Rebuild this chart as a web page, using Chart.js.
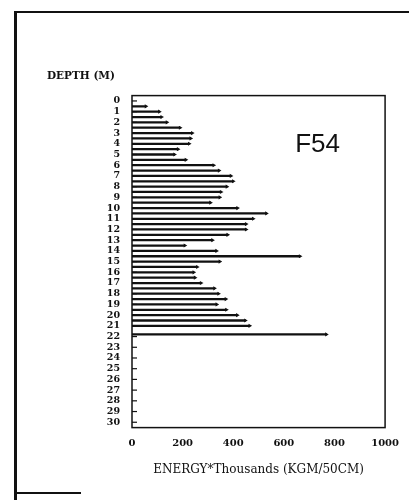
<!DOCTYPE html>
<html lang="en">
<head>
<meta charset="UTF-8">
<title>F54</title>
<script src="https://cdn.jsdelivr.net/npm/chart.js"></script>
<style>
  html, body { margin: 0; padding: 0; background: #fff; }
  body { width: 409px; height: 500px; position: relative; overflow: hidden; }
  .moldura { position: absolute; left: 14px; top: 11px; width: 400px; height: 492px;
             border-left: 3px solid #111; border-top: 2px solid #111; }
  .rodape { position: absolute; left: 15px; top: 492px; width: 66px; height: 0;
            border-top: 2px solid #111; }
  .caixa { position: absolute; left: 0; top: 0; width: 409px; height: 500px; }
</style>
</head>
<body>
  <div class="moldura"></div>
  <div class="rodape"></div>
  <div class="caixa"><canvas id="grafico" width="409" height="500"></canvas></div>

<script>
  // profundidade (m) e energia (milhares KGM/50CM)
  const profundidades = [0.5, 1, 1.5, 2, 2.5, 3, 3.5, 4, 4.5, 5, 5.5, 6, 6.5, 7, 7.5, 8, 8.5, 9, 9.5, 10,
                         10.5, 11, 11.5, 12, 12.5, 13, 13.5, 14, 14.5, 15, 15.5, 16, 16.5, 17, 17.5, 18,
                         18.5, 19, 19.5, 20, 20.5, 21, 21.8];
  const energia = [55, 108, 117, 138, 190, 238, 232, 226, 182, 168, 213, 323, 344, 391, 400, 375, 352, 347, 310, 417,
                   531, 479, 451, 451, 378, 318, 209, 334, 664, 347, 258, 244, 249, 273, 326, 342,
                   371, 335, 373, 416, 448, 465, 768];
  const ticksEnergia = [0, 200, 400, 600, 800, 1000];
  const rotulo = 'F54';

  const pontos = profundidades.map((p, i) => ({ x: energia[i], y: p }));

  // moldura do grafico + tracinhos internos no eixo da profundidade + rotulo F54
  const moldura = {
    id: 'moldura',
    afterDraw(chart) {
      const { ctx, chartArea: a, scales } = chart;
      ctx.save();
      ctx.strokeStyle = '#111';
      ctx.lineWidth = 1.5;
      ctx.strokeRect(a.left, a.top, a.right - a.left, a.bottom - a.top);
      ctx.lineWidth = 1.2;
      scales.y.ticks.forEach(t => {
        const yy = scales.y.getPixelForValue(t.value);
        ctx.beginPath();
        ctx.moveTo(a.left, yy);
        ctx.lineTo(a.left + 5, yy);
        ctx.stroke();
      });
      ctx.fillStyle = '#111';
      ctx.font = '26px "Liberation Sans"';
      ctx.textBaseline = 'middle';
      ctx.fillText(rotulo, scales.x.getPixelForValue(645), scales.y.getPixelForValue(4.1));
      ctx.restore();
    }
  };

  const ctx = document.getElementById('grafico');

  new Chart(ctx, {
    type: 'bar',
    data: {
      datasets: [{
        label: 'energia',
        data: pontos,
        backgroundColor: '#111',
        barThickness: 1.6,
        order: 2
      }, {
        type: 'scatter',
        label: 'pontas',
        data: pontos,
        pointStyle: 'triangle',
        rotation: 90,
        radius: 2.4,
        backgroundColor: '#111',
        borderColor: '#111',
        borderWidth: 0,
        order: 1
      }]
    },
    options: {
      indexAxis: 'y',
      responsive: false,
      animation: false,
      devicePixelRatio: 1,
      layout: { padding: { left: 47, top: 70, right: 21, bottom: 23 } },
      plugins: {
        legend: { display: false },
        tooltip: { enabled: false },
        title: {
          display: true,
          text: 'DEPTH (M)',
          align: 'start',
          color: '#111',
          font: { family: 'DejaVu Serif', size: 10.5, weight: 'bold' },
          padding: { top: 0, bottom: 13 }
        }
      },
      scales: {
        x: {
          type: 'linear',
          min: 0,
          max: 1000,
          afterBuildTicks: s => { s.ticks = ticksEnergia.map(v => ({ value: v })); },
          grid: { display: false, drawTicks: false },
          border: { display: false },
          ticks: {
            color: '#111',
            padding: 10,
            callback: v => String(v),
            font: { family: 'DejaVu Serif', size: 10, weight: 'bold' }
          },
          title: {
            display: true,
            text: 'ENERGY*Thousands (KGM/50CM)',
            color: '#111',
            font: { family: 'DejaVu Serif', size: 12 },
            padding: { top: 3, bottom: 0 }
          }
        },
        y: {
          type: 'linear',
          reverse: true,
          min: 0,
          max: 30,
          afterFit: s => { s.width = 85; },
          grid: { display: false, drawTicks: false },
          border: { display: false },
          ticks: {
            stepSize: 1,
            autoSkip: false,
            color: '#111',
            padding: 12,
            font: { family: 'DejaVu Serif', size: 9.5, weight: 'bold' }
          }
        }
      }
    },
    plugins: [moldura]
  });
</script>
</body>
</html>
